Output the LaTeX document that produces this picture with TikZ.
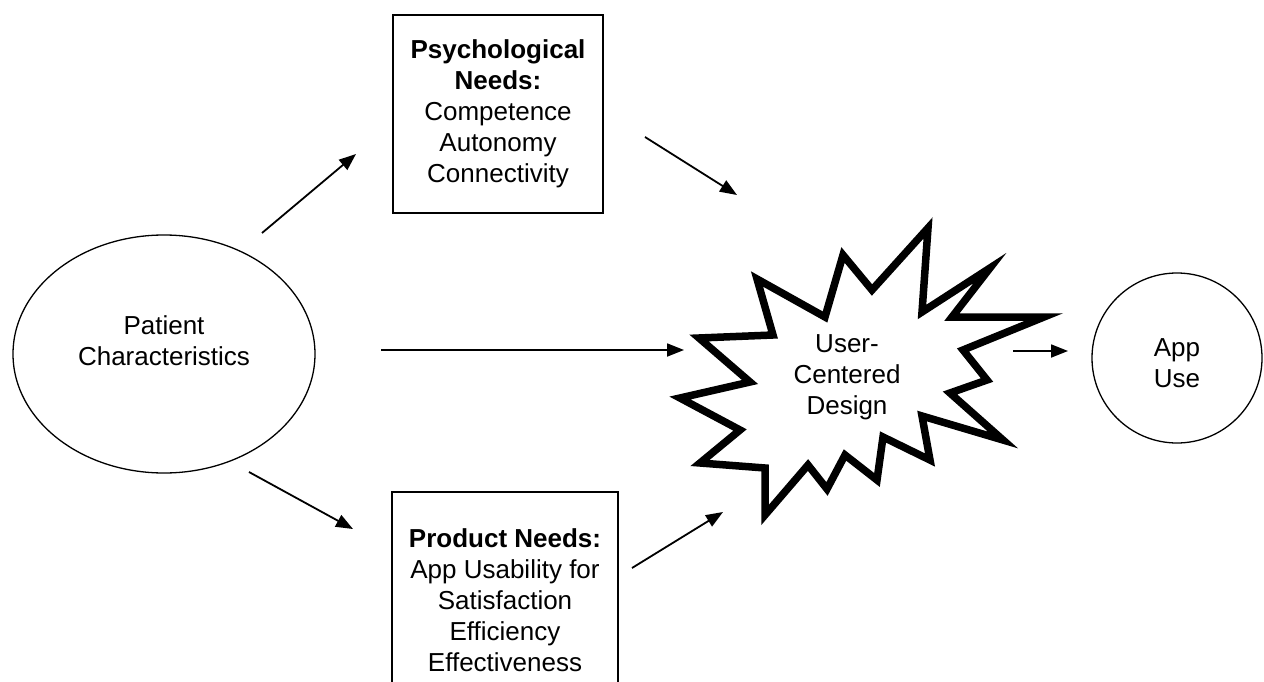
\documentclass[tikz,border=0pt]{standalone}
\usepackage{fontspec}
\setmainfont{Liberation Sans}
\usetikzlibrary{arrows.meta,shapes.geometric}
\begin{document}
\begin{tikzpicture}[x=1pt,y=-1pt,
  font=\fontsize{26}{31}\selectfont,
  arr/.style={line width=1.8pt,-{Triangle[length=17pt,width=13pt]}},
  box/.style={draw,line width=1.5pt,align=center,inner sep=0pt},
  txt/.style={align=center,inner sep=0pt}]
\useasboundingbox (0,0) rectangle (1264,682);
\clip (0,0) rectangle (1264,682);
% patient characteristics
\node[draw,ellipse,line width=1.3pt,minimum width=302pt,minimum height=238pt] (pc) at (164,354) {};
\node[txt] (pct) at (164,341) {Patient\\Characteristics};
% psychological needs
\node[box,minimum width=210pt,minimum height=198pt] (psy) at (498,114)
  {\textbf{Psychological}\\\textbf{Needs:}\\Competence\\Autonomy\\Connectivity};
% product needs
\node[box,minimum width=226pt,minimum height=216pt] (prod) at (505,600)
  {\textbf{Product Needs:}\\App Usability for\\Satisfaction\\Efficiency\\Effectiveness};
% app use
\node[draw,circle,line width=1.3pt,minimum size=170pt] (app) at (1177,358) {};
\node[txt] (appt) at (1177,363) {App\\Use};
% starburst
\draw[line width=7.5pt,fill=white]
  (928,228) -- (922,312) -- (990,268) -- (952,317) -- (1044,317) -- (963,350)
  -- (987,380) -- (950,393) -- (1003,440) -- (922,416) -- (930,460) -- (883,437)
  -- (877,480) -- (845,455) -- (827,489) -- (808,465) -- (765,515) -- (765,468)
  -- (700,463) -- (740,430) -- (680,398) -- (750,382) -- (699,338) -- (773,335)
  -- (757,279) -- (825,317) -- (843,255) -- (872,290) -- cycle;
\node[txt] (ucd) at (847,377) {User-\\Centered\\Design};
% connectors
\coordinate (a1s) at (262,233); \coordinate (a1e) at (356,154);
\coordinate (a2s) at (645,137); \coordinate (a2e) at (737,195);
\coordinate (a3s) at (381,350); \coordinate (a3e) at (684,350);
\coordinate (a4s) at (249,472); \coordinate (a4e) at (353,529);
\coordinate (a5s) at (632,568); \coordinate (a5e) at (723,512);
\coordinate (a6s) at (1013,351); \coordinate (a6e) at (1068,351);
\draw[arr] (a1s) -- (a1e);
\draw[arr] (a2s) -- (a2e);
\draw[arr] (a3s) -- (a3e);
\draw[arr] (a4s) -- (a4e);
\draw[arr] (a5s) -- (a5e);
\draw[arr] (a6s) -- (a6e);
\end{tikzpicture}
\end{document}
